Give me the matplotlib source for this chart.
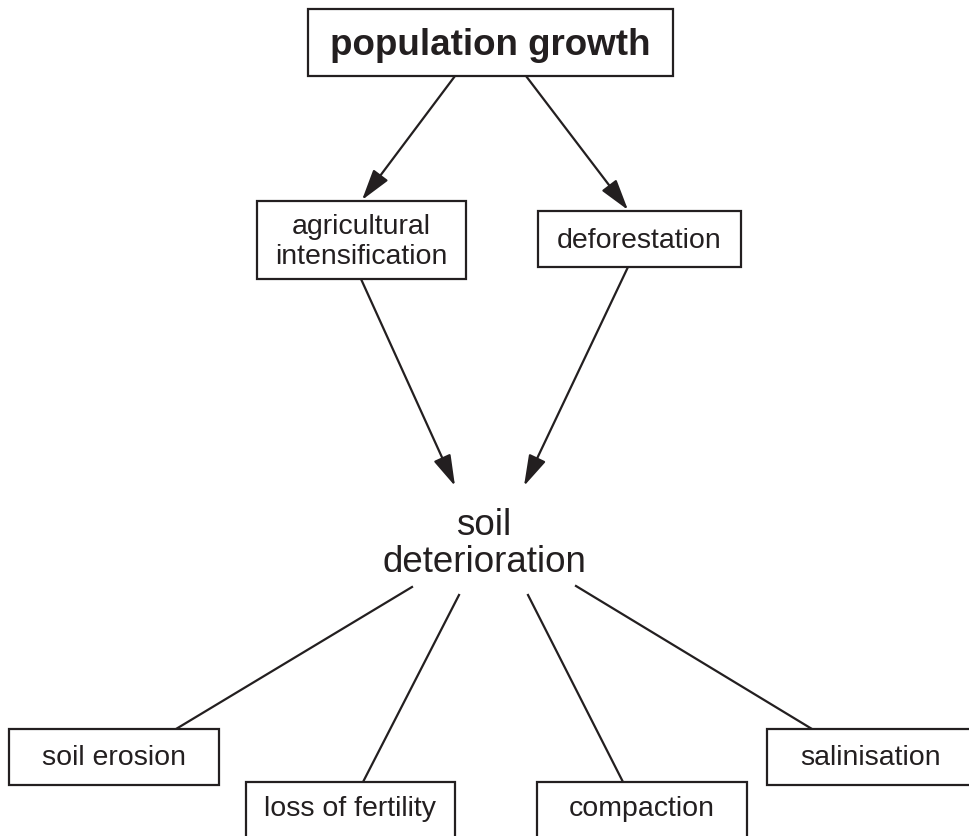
import matplotlib
matplotlib.use("Agg")
import matplotlib.pyplot as plt
from matplotlib.patches import Rectangle, FancyArrowPatch

plt.rcParams['font.family'] = ['Liberation Sans', 'DejaVu Sans']

INK = '#231f20'

# node texts
top_label = "population growth"
middle_labels = ["agricultural\nintensification", "deforestation"]
centre_lines = ["soil", "deterioration"]
bottom_labels = ["soil erosion", "loss of fertility", "compaction", "salinisation"]

# layout in pixels (x0, y0, x1, y1), y grows downward
top_box = (308, 10, 673, 77)
middle_boxes = [(257, 202, 466, 280), (538, 212, 741, 268)]
bottom_boxes = [(9, 730, 219, 786), (246, 783, 455, 870),
                (537, 783, 747, 870), (767, 730, 1000, 786)]
bottom_text_xy = [(114, 758), (350, 809), (642, 809), (871, 758)]
centre_x = 484
centre_baselines = [535, 572]

# connectors
arrows_top = [((455, 77), (362, 201)), ((526, 77), (628, 211))]
arrows_mid = [((361, 280), (455, 487)), ((628, 268), (524, 487))]
spokes = [((412, 588), (176, 730)), ((459, 596), (363, 783)),
          ((528, 596), (623, 783)), ((576, 587), (812, 730))]

fig = plt.figure(figsize=(9.69, 8.37), dpi=100)
ax = fig.add_axes([0, 0, 1, 1])
ax.set_xlim(0, 969)
ax.set_ylim(837, 0)
ax.axis('off')


def box(b):
    x0, y0, x1, y1 = b
    ax.add_patch(Rectangle((x0, y0), x1 - x0, y1 - y0, facecolor='white',
                           edgecolor=INK, lw=1.6, zorder=2))


box(top_box)
ax.text((top_box[0] + top_box[2]) / 2, (top_box[1] + top_box[3]) / 2 + 2, top_label,
        fontsize=26.5, fontweight='bold', ha='center', va='center', color=INK, zorder=3)

for b, lab in zip(middle_boxes, middle_labels):
    box(b)
    ax.text((b[0] + b[2]) / 2, (b[1] + b[3]) / 2 + 1, lab, fontsize=20.5,
            ha='center', va='center', color=INK, linespacing=1.17, zorder=3)

for lab, yb in zip(centre_lines, centre_baselines):
    ax.text(centre_x, yb, lab, fontsize=26.5, ha='center', va='baseline',
            color=INK, zorder=3)

for b, (tx, ty), lab in zip(bottom_boxes, bottom_text_xy, bottom_labels):
    box(b)
    ax.text(tx, ty, lab, fontsize=20.5, ha='center', va='center', color=INK, zorder=3)

for a, b in arrows_top + arrows_mid:
    ax.add_patch(FancyArrowPatch(a, b, arrowstyle='-|>,head_length=0.95,head_width=0.28',
                                 mutation_scale=20, color=INK, lw=1.6,
                                 shrinkA=0, shrinkB=0, zorder=1))

for a, b in spokes:
    ax.plot([a[0], b[0]], [a[1], b[1]], color=INK, lw=1.6, zorder=1)

fig.savefig('out.png', dpi=100)
